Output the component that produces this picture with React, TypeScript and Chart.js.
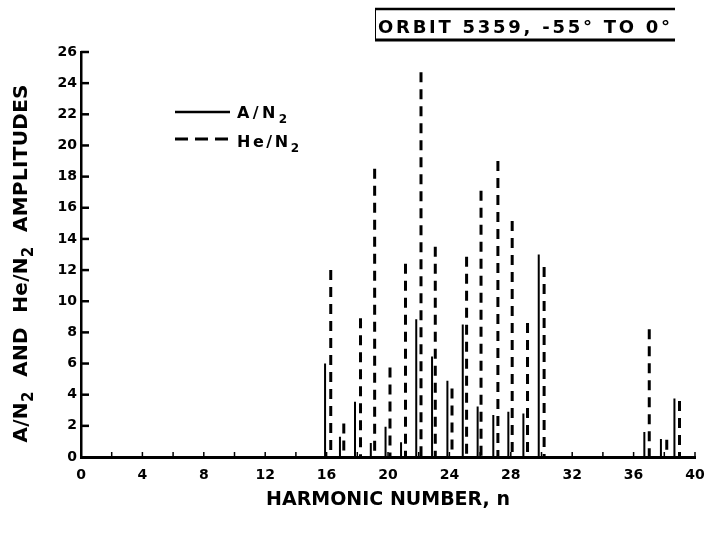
import React, { useEffect, useRef } from "react";
import { Chart, registerables } from "chart.js";

Chart.register(...registerables);

const FONT = '"DejaVu Sans", "Liberation Sans", sans-serif';

// Harmonic positions and amplitudes
const aN2Harmonic = [15.9, 16.87, 17.85, 18.88, 19.84, 20.85, 21.84, 22.87, 23.87, 24.87, 25.84, 26.86, 27.84, 28.82, 29.82, 36.7, 37.78, 38.66];
const aN2Amplitude = [6.0, 1.3, 3.55, 0.9, 1.95, 0.95, 8.85, 6.45, 4.9, 8.5, 3.25, 2.7, 2.9, 2.8, 13.0, 1.6, 1.15, 3.75];
const heN2Harmonic = [16.27, 17.12, 18.21, 19.13, 20.13, 21.14, 22.15, 23.08, 24.17, 25.12, 26.06, 27.16, 28.09, 29.09, 30.17, 37.02, 38.16, 38.99];
const heN2Amplitude = [12.0, 2.15, 8.9, 18.5, 5.75, 12.4, 24.7, 13.5, 4.4, 12.85, 17.1, 19.0, 15.15, 8.6, 12.2, 8.2, 1.1, 3.6];

const xMin = 0;
const xMax = 40;
const xStep = 2;
const xLabelStep = 4;
const yMin = 0;
const yMax = 26;
const yStep = 2;

const seriesLabels = ["A/N₂", "He/N₂"];
const chartTitle = "ORBIT 5359, -55° TO 0°";
const xAxisTitle = "HARMONIC NUMBER, n";
const yAxisTitle = "A/N₂  AND  He/N₂  AMPLITUDES";

// each spike: drawn from its top down to the baseline, then a gap
function spikes(xs: number[], ys: number[]) {
  const out: { x: number; y: number | null }[] = [];
  xs.forEach((x, i) => {
    out.push({ x, y: ys[i] });
    out.push({ x, y: 0 });
    out.push({ x, y: null });
  });
  return out;
}

// Draw text whose "₂" characters are rendered as lowered, smaller digits,
// spread to a given total width with letter spacing.
function drawRich(ctx: CanvasRenderingContext2D, text: string, x: number, y: number, size: number, width: number) {
  const runs: { t: string; sub: boolean }[] = [];
  for (const ch of Array.from(text)) {
    const sub = ch === "₂";
    const c = sub ? "2" : ch;
    const last = runs[runs.length - 1];
    if (last && last.sub === sub) last.t += c;
    else runs.push({ t: c, sub });
  }
  const subSize = Math.round(size * 0.75);
  const fontFor = (sub: boolean) => `bold ${sub ? subSize : size}px ${FONT}`;
  (ctx as any).letterSpacing = "0px";
  let natural = 0;
  let count = 0;
  runs.forEach((r) => {
    ctx.font = fontFor(r.sub);
    natural += ctx.measureText(r.t).width;
    count += r.t.length;
  });
  const ls = Math.max(0, (width - natural) / Math.max(1, count - 1));
  let cx = x;
  ctx.textAlign = "left";
  ctx.textBaseline = "alphabetic";
  runs.forEach((r) => {
    ctx.font = fontFor(r.sub);
    (ctx as any).letterSpacing = "0px";
    const w = ctx.measureText(r.t).width;
    (ctx as any).letterSpacing = ls + "px";
    ctx.fillText(r.t, cx, y + (r.sub ? size * 0.3 : 0));
    cx += w + ls * r.t.length;
  });
  (ctx as any).letterSpacing = "0px";
}

const decorPlugin = {
  id: "decor",
  afterDraw(chart: any) {
    const ctx: CanvasRenderingContext2D = chart.ctx;
    const xs = chart.scales.x;
    const ys = chart.scales.y;
    const { left, top, bottom } = chart.chartArea;
    ctx.save();
    ctx.strokeStyle = "#000";
    ctx.fillStyle = "#000";
    ctx.setLineDash([]);

    // inward tick marks
    ctx.lineWidth = 1.5;
    xs.ticks.forEach((t: any) => {
      if (t.value === xMin) return;
      const px = xs.getPixelForValue(t.value);
      ctx.beginPath();
      ctx.moveTo(px, bottom);
      ctx.lineTo(px, bottom - 5);
      ctx.stroke();
    });
    ctx.lineWidth = 2.5;
    ys.ticks.forEach((t: any) => {
      if (t.value === yMin) return;
      const py = ys.getPixelForValue(t.value);
      ctx.beginPath();
      ctx.moveTo(left, py);
      ctx.lineTo(left + 8, py);
      ctx.stroke();
    });

    // legend
    const lx0 = left + 94;
    const lx1 = left + 149;
    ctx.lineWidth = 2.5;
    ctx.beginPath();
    ctx.moveTo(lx0, top + 60);
    ctx.lineTo(lx1, top + 60);
    ctx.stroke();
    ctx.lineWidth = 3;
    ctx.setLineDash([13, 7]);
    ctx.beginPath();
    ctx.moveTo(lx0, top + 87);
    ctx.lineTo(lx1, top + 87);
    ctx.stroke();
    ctx.setLineDash([]);
    drawRich(ctx, seriesLabels[0], lx1 + 7, top + 66, 16, 50);
    drawRich(ctx, seriesLabels[1], lx1 + 7, top + 95, 16, 62);

    // boxed title
    ctx.lineWidth = 2.5;
    ctx.beginPath();
    ctx.moveTo(375, 9);
    ctx.lineTo(675, 9);
    ctx.stroke();
    ctx.lineWidth = 3;
    ctx.beginPath();
    ctx.moveTo(375, 40);
    ctx.lineTo(675, 40);
    ctx.stroke();
    ctx.lineWidth = 1;
    ctx.beginPath();
    ctx.moveTo(375.5, 10);
    ctx.lineTo(375.5, 40);
    ctx.stroke();
    drawRich(ctx, chartTitle, 378, 33, 18, 292);

    // y axis title (rotated)
    ctx.save();
    const target = 358;
    ctx.translate(27, (top + bottom) / 2 + 9);
    ctx.rotate(-Math.PI / 2);
    drawRich(ctx, yAxisTitle, -target / 2, 0, 20, target);
    ctx.restore();

    ctx.restore();
  },
};

export default function App() {
  const ref = useRef<HTMLCanvasElement | null>(null);
  useEffect(() => {
    if (!ref.current) return;
    const chart = new Chart(ref.current, {
      type: "line",
      data: {
        datasets: [
          {
            label: seriesLabels[0],
            data: spikes(aN2Harmonic, aN2Amplitude) as any,
            borderColor: "#000",
            borderWidth: 2,
            pointRadius: 0,
            spanGaps: false,
            tension: 0,
            fill: false,
          },
          {
            label: seriesLabels[1],
            data: spikes(heN2Harmonic, heN2Amplitude) as any,
            borderColor: "#000",
            borderWidth: 3,
            borderDash: [10, 7],
            borderCapStyle: "butt",
            pointRadius: 0,
            spanGaps: false,
            tension: 0,
            fill: false,
          },
        ],
      },
      options: {
        responsive: false,
        animation: false,
        devicePixelRatio: 1,
        events: [],
        layout: { padding: { top: 52, right: 23, bottom: 0, left: 0 } },
        plugins: {
          legend: { display: false },
          tooltip: { enabled: false },
          title: { display: false },
        },
        scales: {
          x: {
            type: "linear",
            min: xMin,
            max: xMax,
            afterFit: (s: any) => {
              s.height = 101;
            },
            grid: { display: true, drawOnChartArea: false, drawTicks: false },
            border: { display: true, color: "#000", width: 3 },
            ticks: {
              stepSize: xStep,
              autoSkip: false,
              maxRotation: 0,
              padding: 10,
              color: "#000",
              font: { family: FONT, size: 14, weight: "bold" },
              callback: (v: any) => (Number(v) % xLabelStep === 0 ? String(v) : ""),
            },
            title: {
              display: true,
              text: xAxisTitle,
              color: "#000",
              font: { family: FONT, size: 19, weight: "bold" },
              padding: { top: 0, bottom: 47 },
            },
          },
          y: {
            type: "linear",
            min: yMin,
            max: yMax,
            afterFit: (s: any) => {
              s.width = 81;
            },
            grid: { display: true, drawOnChartArea: false, drawTicks: false },
            border: { display: true, color: "#000", width: 2.5 },
            ticks: {
              stepSize: yStep,
              autoSkip: false,
              padding: 4,
              color: "#000",
              font: { family: FONT, size: 14, weight: "bold" },
            },
          },
        },
      },
      plugins: [decorPlugin],
    });
    return () => chart.destroy();
  }, []);
  return (
    <div style={{ position: "absolute", left: 0, top: 0, width: 718, height: 558, background: "#fff" }}>
      <canvas ref={ref} width={718} height={558} style={{ display: "block" }} />
    </div>
  );
}
